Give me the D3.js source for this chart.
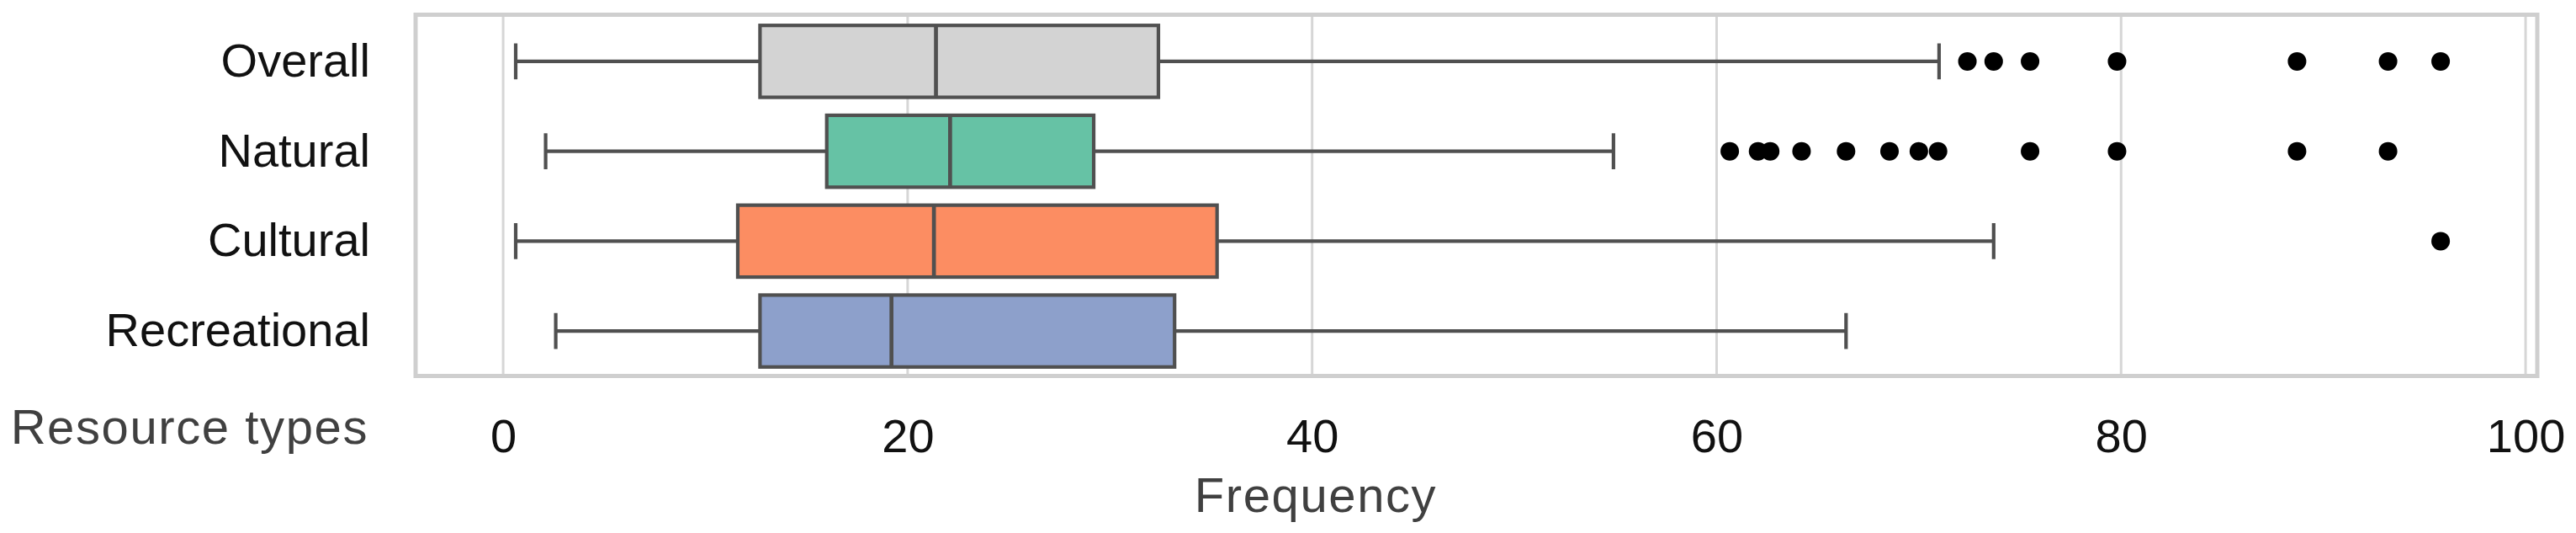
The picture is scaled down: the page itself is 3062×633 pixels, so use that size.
<!DOCTYPE html>
<html>
<head>
<meta charset="utf-8">
<script src="https://cdn.jsdelivr.net/npm/d3@7"></script>
<style>
  body { margin: 0; background: #fff; }
  svg { display: block; font-family: "Liberation Sans", Arial, sans-serif; }
</style>
</head>
<body>
<svg id="chart"></svg>
<script>
// values
const categories = ["Overall", "Natural", "Cultural", "Recreational"];
const colors = ["#d3d3d3", "#66c2a5", "#fc8d62", "#8da0cb"];
const whiskLow = [0.62, 2.1, 0.62, 2.6];
const q1 = [12.7, 16.0, 11.6, 12.7];
const medians = [21.4, 22.1, 21.3, 19.2];
const q3 = [32.4, 29.2, 35.3, 33.2];
const whiskHigh = [71.0, 54.9, 73.7, 66.4];
const outliers = [
    [72.4, 73.7, 75.5, 79.8, 88.7, 93.2, 95.8],
    [60.65, 62.05, 62.65, 64.2, 66.4, 68.55, 70.0, 70.95, 75.5, 79.8, 88.7, 93.2],
    [95.8],
    []
];
const xTicks = [0, 20, 40, 60, 80, 100];

const svgWidth = 3062, svgHeight = 633;
const margin = { left: 494, right: 3016, top: 19.5, bottom: 446.5 };

const svg = d3.select("#chart")
    .attr("width", svgWidth)
    .attr("height", svgHeight);

const x = d3.scaleLinear()
    .domain([-4.33, 100.58])
    .range([margin.left, margin.right]);

const y = d3.scaleBand()
    .domain(categories)
    .range([margin.top, margin.bottom])
    .paddingInner(0)
    .paddingOuter(0);

const boxH = y.bandwidth() * 0.8;
const lineCol = "#505050";
const lineW = 4.2;

// grid
svg.append("g")
    .selectAll("line")
    .data(xTicks)
    .enter()
    .append("line")
    .attr("x1", d => x(d))
    .attr("x2", d => x(d))
    .attr("y1", margin.top)
    .attr("y2", margin.bottom)
    .attr("stroke", "#d6d6d6")
    .attr("stroke-width", 3);

// tick labels
const xAxis = svg.append("g")
    .attr("transform", `translate(0, ${margin.bottom})`)
    .call(d3.axisBottom(x).tickValues(xTicks).tickSize(0).tickPadding(51));
xAxis.select(".domain").remove();
xAxis.selectAll("text")
    .attr("font-size", 56)
    .attr("fill", "#111")
    .attr("font-family", "Liberation Sans, Arial, sans-serif");

const yAxis = svg.append("g")
    .attr("transform", `translate(${margin.left}, 0)`)
    .call(d3.axisLeft(y).tickSize(0).tickPadding(54));
yAxis.select(".domain").remove();
yAxis.selectAll("text")
    .attr("font-size", 56)
    .attr("fill", "#111")
    .attr("font-family", "Liberation Sans, Arial, sans-serif");

const rows = svg.append("g")
    .selectAll("g")
    .data(categories)
    .enter()
    .append("g")
    .attr("transform", d => `translate(0, ${y(d) + y.bandwidth() / 2})`);

// whiskers
rows.append("line")
    .attr("x1", (d, i) => x(whiskLow[i]))
    .attr("x2", (d, i) => x(q1[i]))
    .attr("stroke", lineCol).attr("stroke-width", lineW);
rows.append("line")
    .attr("x1", (d, i) => x(q3[i]))
    .attr("x2", (d, i) => x(whiskHigh[i]))
    .attr("stroke", lineCol).attr("stroke-width", lineW);
rows.append("line")
    .attr("x1", (d, i) => x(whiskLow[i]))
    .attr("x2", (d, i) => x(whiskLow[i]))
    .attr("y1", -boxH / 4).attr("y2", boxH / 4)
    .attr("stroke", lineCol).attr("stroke-width", lineW);
rows.append("line")
    .attr("x1", (d, i) => x(whiskHigh[i]))
    .attr("x2", (d, i) => x(whiskHigh[i]))
    .attr("y1", -boxH / 4).attr("y2", boxH / 4)
    .attr("stroke", lineCol).attr("stroke-width", lineW);

// boxes
rows.append("rect")
    .attr("x", (d, i) => x(q1[i]))
    .attr("width", (d, i) => x(q3[i]) - x(q1[i]))
    .attr("y", -boxH / 2)
    .attr("height", boxH)
    .attr("fill", (d, i) => colors[i])
    .attr("stroke", lineCol)
    .attr("stroke-width", lineW);

rows.append("line")
    .attr("x1", (d, i) => x(medians[i]))
    .attr("x2", (d, i) => x(medians[i]))
    .attr("y1", -boxH / 2).attr("y2", boxH / 2)
    .attr("stroke", lineCol).attr("stroke-width", lineW + 0.5);

// outliers
rows.each(function(d, i) {
    d3.select(this).selectAll("circle")
        .data(outliers[i])
        .enter()
        .append("circle")
        .attr("cx", v => x(v))
        .attr("cy", 0)
        .attr("r", 11)
        .attr("fill", "#000");
});

// frame
svg.append("rect")
    .attr("x", margin.left)
    .attr("y", margin.top - 2)
    .attr("width", margin.right - margin.left)
    .attr("height", margin.bottom - margin.top + 2)
    .attr("fill", "none")
    .attr("stroke", "#cfcfcf")
    .attr("stroke-width", 5);

// axis titles
svg.append("text")
    .attr("x", 438)
    .attr("y", 527)
    .attr("text-anchor", "end")
    .attr("font-size", 58)
    .attr("letter-spacing", 1.6)
    .attr("fill", "#404040")
    .text("Resource types");

svg.append("text")
    .attr("x", 1564)
    .attr("y", 608)
    .attr("text-anchor", "middle")
    .attr("font-size", 58)
    .attr("letter-spacing", 1.6)
    .attr("fill", "#404040")
    .text("Frequency");
</script>
</body>
</html>
